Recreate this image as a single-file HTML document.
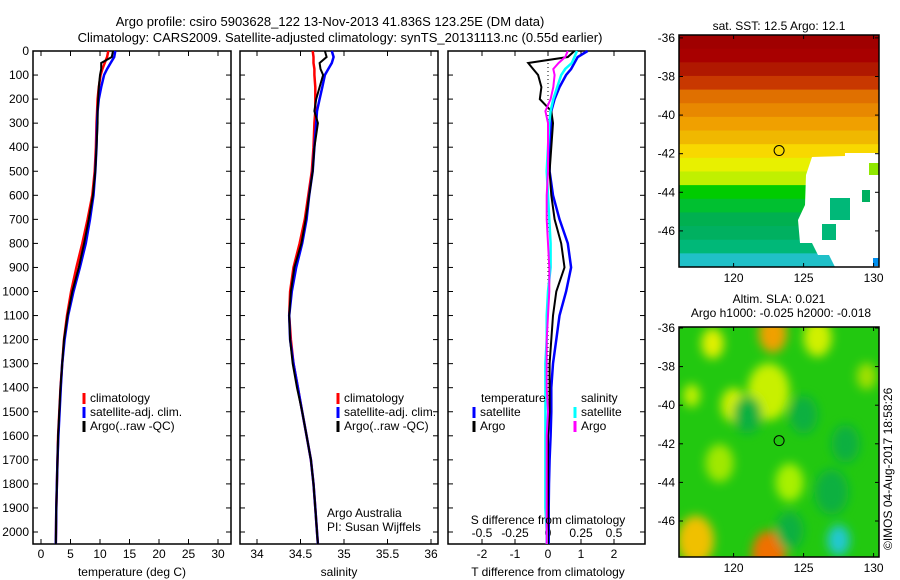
<!DOCTYPE html>
<html><head><meta charset="utf-8">
<style>
body{margin:0;background:#fff;}
svg{display:block;font-family:"Liberation Sans",sans-serif;}
text{font-size:12px;fill:#000;}
</style></head>
<body>
<svg id="c" width="900" height="580" xmlns="http://www.w3.org/2000/svg">
<text x="330" y="26" text-anchor="middle" style="font-size:13px">Argo profile: csiro 5903628_122 13-Nov-2013 41.836S 123.25E (DM data)</text>
<text x="340" y="42" text-anchor="middle" style="font-size:13px">Climatology: CARS2009. Satellite-adjusted climatology: synTS_20131113.nc (0.55d earlier)</text>
<g id="plots"></g>
<text x="779" y="30" text-anchor="middle">sat. SST: 12.5  Argo: 12.1</text>
<text x="779" y="303" text-anchor="middle">Altim. SLA: 0.021</text>
<text x="781" y="317" text-anchor="middle">Argo h1000: -0.025 h2000: -0.018</text>
<text transform="translate(892,550) rotate(-90)">©IMOS 04-Aug-2017 18:58:26</text>
</svg>
<script>
// ---- data ----
const depths = [0,25,50,75,100,150,200,250,300,400,500,600,700,800,900,1000,1100,1200,1300,1400,1500,1600,1700,1800,1900,2000,2050];
const tClim  = [11.4,11.2,10.8,10.4,10.1,9.8,9.6,9.5,9.4,9.3,9.1,8.7,7.9,7.0,6.0,5.1,4.4,3.9,3.6,3.3,3.1,2.9,2.8,2.7,2.6,2.55,2.5];
const tSat   = [12.6,12.4,11.8,11.2,10.7,10.2,9.8,9.6,9.5,9.4,9.2,8.9,8.3,7.6,6.6,5.5,4.6,4.0,3.6,3.35,3.15,2.95,2.8,2.7,2.6,2.55,2.5];
const tArgo  = [12.2,12.0,10.2,10.2,10.0,9.8,9.7,9.6,9.6,9.4,9.2,8.8,8.1,7.3,6.4,5.3,4.5,3.9,3.6,3.3,3.1,2.9,2.8,2.7,2.6,2.55,2.5];
const sClim  = [34.64,34.65,34.65,34.66,34.66,34.67,34.67,34.67,34.66,34.65,34.63,34.59,34.55,34.49,34.42,34.38,34.37,34.39,34.42,34.47,34.52,34.57,34.62,34.65,34.67,34.69,34.70];
const sSat   = [34.86,34.88,34.86,34.82,34.78,34.75,34.72,34.69,34.68,34.66,34.64,34.60,34.57,34.52,34.45,34.40,34.37,34.38,34.42,34.47,34.52,34.57,34.62,34.65,34.67,34.69,34.70];
const sArgo  = [34.78,34.80,34.72,34.73,34.76,34.72,34.68,34.66,34.70,34.66,34.64,34.60,34.56,34.51,34.43,34.39,34.37,34.38,34.41,34.46,34.52,34.57,34.62,34.65,34.67,34.69,34.70];
const dtSat  = [1.2,0.9,0.8,0.7,0.55,0.35,0.2,0.1,0.1,0.05,0.05,0.15,0.35,0.6,0.7,0.55,0.35,0.25,0.15,0.1,0.1,0.08,0.05,0.03,0.02,0.02,0.02];
const dtArgo = [0.8,0.6,-0.6,-0.45,-0.3,-0.2,-0.25,0.1,0.15,0.1,0.05,0.1,0.2,0.4,0.5,0.25,0.15,0.1,0.05,0.05,0.05,0.0,0.0,0.0,0.0,0.0,0.0];
const dsSat  = [0.22,0.2,0.18,0.13,0.1,0.07,0.04,0.02,0.01,0.0,-0.01,0.0,0.01,0.02,0.02,0.0,-0.01,-0.01,-0.02,-0.02,-0.02,-0.02,-0.02,-0.02,-0.02,-0.01,-0.01];
const dsArgo = [0.15,0.13,0.08,0.04,0.05,0.04,0.02,-0.02,0.0,0.0,0.0,-0.01,-0.01,0.0,0.01,0.01,0.0,-0.01,-0.01,-0.01,0.0,-0.01,-0.01,-0.01,-0.01,-0.01,-0.01];
const depthTicks = [0,100,200,300,400,500,600,700,800,900,1000,1100,1200,1300,1400,1500,1600,1700,1800,1900,2000];
const tTicks = [0,5,10,15,20,25,30];
const sTicks = [34,34.5,35,35.5,36];
const dtTicks = [-2,-1,0,1,2];
const dsTicks = [-0.5,-0.25,0,0.25,0.5];
const sstLatRows = ['#a00000','#a80000','#b01800','#c83800','#e07000','#e88800','#f0a000','#f0b800','#f8d800','#e8f000','#c0f000','#00cc00','#00c030','#00b050','#00b060','#00b878','#20c0c8'];
const lonTicks = [120,125,130];
const latTicks = [-36,-38,-40,-42,-44,-46];
const argoLon = 123.25, argoLat = -41.836;
// SLA blobs: lon, lat, radius(deg), color
const slaLon = [122.8,117.3,122.5,118.5,120,126,129.5,122.5,117,124,127.5,121,125,119,127,124,128];
const slaLat = [-36.3,-47,-47.7,-36.8,-40,-36.5,-38.5,-39.3,-39.5,-44,-47,-40.5,-40.5,-43,-44.5,-46.5,-42];
const slaRad = [1.0,1.3,1.2,0.8,0.9,1.0,0.7,1.5,0.6,1.0,0.8,1.0,1.0,1.0,1.2,1.0,1.0];
const slaCol = ['#f0a000','#f0c000','#f07000','#e0f000','#d0f000','#d0f000','#a0e000','#c8f000','#c0f000','#a8f000','#20c8d0','#10b040','#10b040','#a0e800','#10b040','#10b040','#10b040'];

// ---- helpers ----
const NS='http://www.w3.org/2000/svg';
const root=document.getElementById('plots');
function mk(tag,attrs,parent){const e=document.createElementNS(NS,tag);for(const k in attrs)e.setAttribute(k,attrs[k]);(parent||root).appendChild(e);return e;}
const Y0=51,Y1=544;
const yD=d=>Y0+d*0.2405;

function panel(x0,x1,name){
  const g=mk('g',{});
  
  
  const r=mk('rect',{x:x0,y:Y0,width:x1-x0,height:Y1-Y0,fill:'none',stroke:'#000','stroke-width':1.5},g);
  
  
  return g;
}
function depthAxis(g,x0,x1,labels){
  depthTicks.forEach(d=>{const y=yD(d);
    mk('line',{x1:x0,y1:y,x2:x0+5,y2:y,stroke:'#000'},g);
    mk('line',{x1:x1-5,y1:y,x2:x1,y2:y,stroke:'#000'},g);
    if(labels){const t=mk('text',{x:x0-4,y:y+4,'text-anchor':'end'},g);t.textContent=d;
      
      }
  });
}
function xAxis(g,ticks,fx,yLab,fmt){
  ticks.forEach(v=>{const x=fx(v);
    mk('line',{x1:x,y1:Y0,x2:x,y2:Y0+5,stroke:'#000'},g);
    mk('line',{x1:x,y1:Y1-5,x2:x,y2:Y1,stroke:'#000'},g);
    const t=mk('text',{x:x,y:yLab,'text-anchor':'middle'},g);t.textContent=fmt?fmt(v):v;
    
    });
}
function line(g,vals,fx,color,w,name){
  const pts=vals.map((v,i)=>fx(v).toFixed(1)+','+yD(depths[i]).toFixed(1)).join(' ');
  const p=mk('polyline',{points:pts,fill:'none',stroke:color,'stroke-width':w},g);
  
  
}
function legendItem(g,x,y,color,label,name){
  mk('line',{x1:x,y1:y-9,x2:x,y2:y+2,stroke:color,'stroke-width':3},g);
  const t=mk('text',{x:x+6,y:y},g);t.textContent=label;
  
  
}
function txt(g,x,y,s,name,anchor){const t=mk('text',{x:x,y:y,'text-anchor':anchor||'start'},g);t.textContent=s;
  
  return t;}

// panel 1 temperature
const fT=v=>41+v*5.9;
let g1=panel(33,231,'temperature-panel');
depthAxis(g1,33,231,true);
xAxis(g1,tTicks,fT,558);
line(g1,tClim,fT,'#f00',2.5,'temp-climatology-line');
line(g1,tSat,fT,'#00f',2.5,'temp-satellite-line');
line(g1,tArgo,fT,'#000',2,'temp-argo-line');
txt(g1,132,576,'temperature (deg C)','temp-x-axis-title','middle');
legendItem(g1,84,402,'#f00','climatology','legend-climatology');
legendItem(g1,84,416,'#00f','satellite-adj. clim.','legend-satellite');
legendItem(g1,84,430,'#000','Argo(..raw -QC)','legend-argo');

// panel 2 salinity
const fS=v=>257+(v-34)*87;
let g2=panel(240,438,'salinity-panel');
depthAxis(g2,240,438,false);
xAxis(g2,sTicks,fS,558);
line(g2,sClim,fS,'#f00',2.5,'sal-climatology-line');
line(g2,sSat,fS,'#00f',2.5,'sal-satellite-line');
line(g2,sArgo,fS,'#000',2,'sal-argo-line');
txt(g2,339,576,'salinity','sal-x-axis-title','middle');
legendItem(g2,338,402,'#f00','climatology','legend-climatology-2');
legendItem(g2,338,416,'#00f','satellite-adj. clim.','legend-satellite-2');
legendItem(g2,338,430,'#000','Argo(..raw -QC)','legend-argo-2');
txt(g2,327,517,'Argo Australia','argo-australia-label');
txt(g2,327,531,'PI: Susan Wijffels','pi-label');

// panel 3 differences
const fDT=v=>548+v*33;
const fDS=v=>548+v*132;
let g3=panel(448,645,'difference-panel');
depthAxis(g3,448,645,false);
xAxis(g3,dtTicks,fDT,558);
dsTicks.forEach(v=>txt(g3,fDS(v),537,String(v),'s-tick-label','middle'));
mk('line',{x1:548,y1:Y0,x2:548,y2:Y1,stroke:'#000','stroke-dasharray':'1,3'},g3);
line(g3,dtSat,fDT,'#00f',2.5,'dt-satellite-line');
line(g3,dtArgo,fDT,'#000',2,'dt-argo-line');
line(g3,dsSat,fDS,'#0ff',2.5,'ds-satellite-line');
line(g3,dsArgo,fDS,'#f0f',2,'ds-argo-line');
txt(g3,481,402,'temperature','legend-temperature-head');
legendItem(g3,474,416,'#00f','satellite','legend-t-satellite');
legendItem(g3,474,430,'#000','Argo','legend-t-argo');
txt(g3,581,402,'salinity','legend-salinity-head');
legendItem(g3,575,416,'#0ff','satellite','legend-s-satellite');
legendItem(g3,575,430,'#f0f','Argo','legend-s-argo');
txt(g3,548,524,'S difference from climatology','s-axis-title','middle');
txt(g3,548,576,'T difference from climatology','t-axis-title','middle');

// maps
const MX0=679,MX1=879;
const fLon=v=>679+(v-116.1)*14;
function mapFrame(name){
  const g=mk('g',{});
  
  
  return g;
}
function mapAxes(g,y0,y1,fLat){
  mk('rect',{x:MX0,y:y0,width:MX1-MX0,height:y1-y0,fill:'none',stroke:'#000','stroke-width':1.5},g);
  lonTicks.forEach(v=>{const x=fLon(v);mk('line',{x1:x,y1:y1,x2:x,y2:y1-4,stroke:'#000'},g);mk('line',{x1:x,y1:y0,x2:x,y2:y0+4,stroke:'#000'},g);
    txt(g,x,y1+15,v,'lon-tick-label','middle');});
  latTicks.forEach(v=>{const y=fLat(v);mk('line',{x1:MX0,y1:y,x2:MX0+4,y2:y,stroke:'#000'},g);mk('line',{x1:MX1-4,y1:y,x2:MX1,y2:y,stroke:'#000'},g);
    txt(g,MX0-4,y+4,v,'lat-tick-label','end');});
  const c=mk('circle',{cx:fLon(argoLon),cy:fLat(argoLat),r:5,fill:'none',stroke:'#000'},g);
  
  
}
// SST
const fLatA=v=>35+(-35.85-v)*19.3;
const gA=mapFrame('sst-map');
const rowH=(267-35)/sstLatRows.length;
sstLatRows.forEach((c,i)=>{const r=mk('rect',{x:MX0,y:35+i*rowH,width:200,height:rowH+0.5,fill:c},gA);
  
  });
const cloud=mk('path',{d:'M812,157 L845,156 L845,153 L879,153 L879,267 L835,267 L829,255 L818,255 L812,243 L800,243 L798,220 L805,205 L806,175 Z',fill:'#fff'},gA);


[[830,198,20,22,'#00b878'],[862,190,8,12,'#00b060'],[822,224,14,16,'#00b878'],[869,163,10,12,'#90e800'],[873,258,6,8,'#0090f0']].forEach(p=>{
  const r=mk('rect',{x:p[0],y:p[1],width:p[2],height:p[3],fill:p[4]},gA);
  
  });
mapAxes(gA,35,267,fLatA);
// SLA
const fLatB=v=>328+(-36-v)*19.3;
const gB=mapFrame('sla-map');
mk('defs',{},gB).innerHTML='<filter id="bl" x="-50%" y="-50%" width="200%" height="200%"><feGaussianBlur stdDeviation="5"/></filter><clipPath id="cp"><rect x="679" y="327" width="200" height="230"/></clipPath>';
mk('rect',{x:MX0,y:327,width:200,height:230,fill:'#22c810'},gB);
const bg=mk('g',{'clip-path':'url(#cp)',filter:'url(#bl)'},gB);
slaLon.forEach((lo,i)=>{const c=mk('ellipse',{cx:fLon(lo),cy:fLatB(slaLat[i]),rx:slaRad[i]*14,ry:slaRad[i]*19,fill:slaCol[i]},bg);
  
  });
mapAxes(gB,327,557,fLatB);
</script>
</body></html>
